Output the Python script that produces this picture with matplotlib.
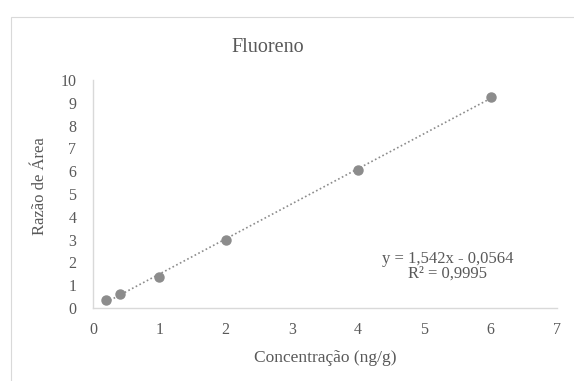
import numpy as np
import matplotlib.pyplot as plt
from matplotlib.patches import Rectangle

# dados da curva de calibração
concentracao = [0.2, 0.4, 1, 2, 4, 6]
razao_area = [0.35, 0.6, 1.35, 3.0, 6.05, 9.25]
coef_a, coef_b = 1.542, -0.0564
x_ticks = [0, 1, 2, 3, 4, 5, 6, 7]
y_ticks = [0, 1, 2, 3, 4, 5, 6, 7, 8, 9, 10]

plt.rcParams['font.family'] = ['Liberation Serif', 'DejaVu Serif']
cinza = '#595959'

fig = plt.figure(figsize=(5.74, 3.81), dpi=100)
fig.patches.append(Rectangle((11 / 574, -0.1), 1.2, 1 - 17 / 381 + 0.1, transform=fig.transFigure,
                             fill=False, edgecolor='#d9d9d9', linewidth=0.8))
ax = fig.add_axes([93 / 574, 73 / 381, 464 / 574, 228 / 381])

# linha de tendência
xl = np.array([min(concentracao), max(concentracao)])
ax.plot(xl, coef_a * xl + coef_b, linestyle=(0, (1, 1.5)), color='#8c8c8c', linewidth=1.2, zorder=2)
ax.plot(concentracao, razao_area, 'o', color='#8c8c8c', markersize=6.5, zorder=3)

ax.set_xlim(0, 7)
ax.set_ylim(0, 10)
ax.set_xticks(x_ticks)
ax.set_yticks(y_ticks)
ax.tick_params(length=0, labelsize=11.5, colors=cinza)
ax.tick_params(axis='y', pad=12)
ax.tick_params(axis='x', pad=10)
for s in ['top', 'right']:
    ax.spines[s].set_visible(False)
for s in ['left', 'bottom']:
    ax.spines[s].set_color('#d9d9d9')
    ax.spines[s].set_linewidth(1)

ax.text(5.35, 1.84, 'y = 1,542x - 0,0564\nR² = 0,9995', ha='center', va='center',
        fontsize=12, color=cinza, linespacing=0.92)

fig.text(268 / 574, 1 - 47 / 381, 'Fluoreno', ha='center', va='center', fontsize=14.5, color=cinza)
fig.text(40 / 574, 1 - 186 / 381, 'Razão de Área', ha='center', va='center', rotation=90,
         fontsize=12, color=cinza)
fig.text(325 / 574, 1 - 358 / 381, 'Concentração (ng/g)', ha='center', va='center',
         fontsize=12.5, color=cinza)

fig.savefig('out.png', dpi=100)
